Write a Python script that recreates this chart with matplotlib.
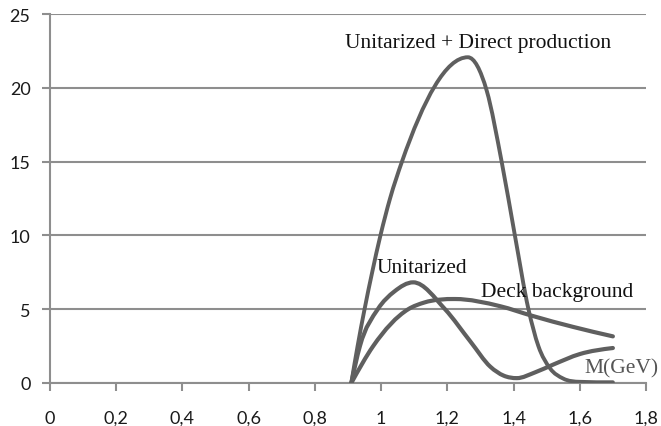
import matplotlib
matplotlib.use("Agg")
import matplotlib.pyplot as plt
import numpy as np
from matplotlib.path import Path
from matplotlib.patches import PathPatch
from matplotlib.ticker import FuncFormatter

# Unitarized + Direct production
direct_m = [0.91, 0.929, 0.95, 0.973, 0.998, 1.027, 1.063, 1.262,
            1.319, 1.364, 1.404, 1.445, 1.475, 1.51, 1.55, 1.60, 1.70]
direct_v = [0.0, 2.5, 5.0, 7.5, 10.0, 12.5, 15.0, 22.07,
            19.8, 15.0, 10.0, 5.0, 2.5, 1.0, 0.3, 0.08, 0.05]

# Unitarized
unit_m = [0.91, 0.936, 0.99, 1.04, 1.097, 1.193, 1.27, 1.33, 1.37, 1.41,
          1.465, 1.52, 1.60, 1.70]
unit_v = [0.0, 2.5, 5.0, 6.2, 6.82, 5.0, 2.8, 1.1, 0.5, 0.33,
          0.72, 1.25, 1.96, 2.37]

# Deck background
deck_m = [0.91, 0.976, 1.082, 1.13, 1.223, 1.36, 1.455, 1.58, 1.70]
deck_v = [0.0, 2.5, 5.0, 5.45, 5.69, 5.2, 4.56, 3.8, 3.16]

x_ticks = [0, 0.2, 0.4, 0.6, 0.8, 1.0, 1.2, 1.4, 1.6, 1.8]
y_ticks = [0, 5, 10, 15, 20, 25]

LINE = "#5f5f5f"
GRID = "#8e8e8e"


def smooth_path(xs, ys):
    """Cubic Hermite curve through the points (flat at turning points), as Bezier segments."""
    x = np.asarray(xs, float)
    y = np.asarray(ys, float)
    h = np.diff(x)
    d = np.diff(y) / h
    m = np.zeros_like(y)
    for k in range(1, len(x) - 1):
        if d[k - 1] * d[k] > 0:
            s = (d[k - 1] * h[k] + d[k] * h[k - 1]) / (h[k - 1] + h[k])
            lim = 3 * min(abs(d[k - 1]), abs(d[k]))
            m[k] = np.sign(s) * min(abs(s), lim)
    m[0] = d[0] + (d[0] - m[1]) * 0.5
    m[-1] = d[-1] + (d[-1] - m[-2]) * 0.5
    if m[-1] * d[-1] < 0:
        m[-1] = 0.0
    verts = [(x[0], y[0])]
    codes = [Path.MOVETO]
    for i in range(len(x) - 1):
        t = h[i] / 3.0
        verts += [(x[i] + t, y[i] + m[i] * t),
                  (x[i + 1] - t, y[i + 1] - m[i + 1] * t),
                  (x[i + 1], y[i + 1])]
        codes += [Path.CURVE4] * 3
    return Path(verts, codes)


fig = plt.figure(figsize=(6.61, 4.27), dpi=100)
ax = fig.add_axes([50 / 661, 43 / 427, 596 / 661, 369 / 427])

ax.set_xlim(0, 1.8)
ax.set_ylim(0, 25)

for xs, ys, lw in [(deck_m, deck_v, 3.0), (unit_m, unit_v, 3.0), (direct_m, direct_v, 2.8)]:
    patch = PathPatch(smooth_path(xs, ys), transform=ax.transData, fill=False,
                      edgecolor=LINE, linewidth=lw, capstyle="round", joinstyle="round",
                      zorder=3)
    ax.add_patch(patch)

# horizontal grid
ax.yaxis.grid(True, color=GRID, linewidth=1.5, zorder=1)
ax.xaxis.grid(False)
ax.set_axisbelow(True)

for side in ["top", "right"]:
    ax.spines[side].set_visible(False)
for side in ["left", "bottom"]:
    ax.spines[side].set_color(GRID)
    ax.spines[side].set_linewidth(1.5)

ax.set_xticks(x_ticks)
ax.set_yticks(y_ticks)


def comma_fmt(v, pos):
    s = f"{v:.1f}".rstrip("0").rstrip(".")
    return s.replace(".", ",")


ax.xaxis.set_major_formatter(FuncFormatter(comma_fmt))
ax.yaxis.set_major_formatter(FuncFormatter(comma_fmt))

ax.tick_params(axis="both", direction="out", length=5.5, width=1.5, color=GRID,
               labelsize=13, labelcolor="#1a1a1a")
ax.tick_params(axis="y", pad=8.5)
ax.tick_params(axis="x", pad=14)
for lab in ax.get_xticklabels() + ax.get_yticklabels():
    lab.set_family(["Lato", "DejaVu Sans"])

serif = ["Liberation Serif", "DejaVu Serif"]
fs = 15.5
ax.text(0.891, 22.76, "Unitarized + Direct production", family=serif, fontsize=fs,
        color="#111111", ha="left", va="baseline", zorder=4)
ax.text(0.985, 7.52, "Unitarized", family=serif, fontsize=fs,
        color="#111111", ha="left", va="baseline", zorder=4)
ax.text(1.302, 5.89, "Deck background", family=serif, fontsize=fs,
        color="#111111", ha="left", va="baseline", zorder=4)
ax.text(1.613, 0.68, "M(GeV)", family=serif, fontsize=fs,
        color="#555555", ha="left", va="baseline", zorder=4)

fig.savefig("out.png", dpi=100)
